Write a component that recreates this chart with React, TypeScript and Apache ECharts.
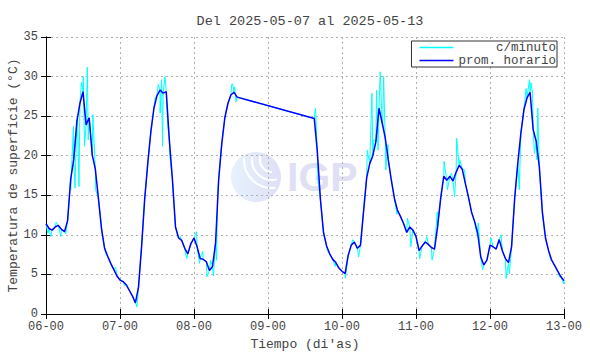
import React, { useEffect, useRef } from 'react';
import * as echarts from 'echarts';

const TITLE = 'Del 2025-05-07 al 2025-05-13';
const X_NAME = "Tiempo (di'as)";
const Y_NAME = 'Temperatura de superficie (°C)';
const X_TICK_LABELS = ['06-00', '07-00', '08-00', '09-00', '10-00', '11-00', '12-00', '13-00'];
const SERIES_NAMES = ['c/minuto', 'prom. horario'];

// Hourly mean (°C), one value per hour starting 06-00; null = no data
const HOURLY_DAY06 = [11.4, 10.8, 10.6, 11.0, 11.2, 10.7, 10.4, 11.8, 17.0, 19.5, 24.3, 26.6, 28.1, 23.9, 24.8, 20.1, 18.3, 14.6, 10.8, 8.3, 7.3, 6.4, 5.6, 4.8];
const HOURLY_DAY07 = [4.3, 4.1, 3.7, 3.0, 2.3, 1.4, 3.4, 8.5, 14.5, 19.0, 23.0, 26.0, 27.6, 28.3, 27.9, 28.1, 22.0, 17.0, 11.0, 9.6, 9.3, 8.3, 7.6, 8.9];
const HOURLY_DAY08 = [9.6, 8.5, 7.0, 6.9, 6.6, 5.5, 6.0, 9.0, 17.0, 21.5, 24.8, 26.6, 27.7, 28.0, 27.4, null, null, null, null, null, null, null, null, null];
const HOURLY_DAY09 = [null, null, null, null, null, null, null, null, null, null, null, null, null, null, null, 24.7, 20.5, 14.5, 10.3, 8.6, 7.6, 6.9, 6.5, 5.8];
const HOURLY_DAY10 = [5.4, 5.1, 7.4, 8.7, 9.1, 8.3, 8.7, 13.0, 17.2, 19.0, 20.0, 21.8, 26.0, 24.2, 22.3, 19.5, 16.9, 14.6, 13.1, 12.3, 11.4, 10.3, 11.0, 10.6];
const HOURLY_DAY11 = [9.8, 8.0, 8.6, 9.1, 8.8, 8.4, 8.2, 11.0, 14.6, 17.4, 16.9, 17.4, 16.8, 17.9, 18.8, 18.3, 16.5, 14.8, 12.9, 11.7, 10.2, 7.2, 6.2, 6.8];
const HOURLY_DAY12 = [8.7, 8.5, 8.2, 9.4, 8.0, 7.0, 6.5, 8.5, 14.6, 19.0, 22.8, 25.8, 27.3, 28.0, 23.3, 21.8, 18.6, 12.8, 9.6, 8.0, 6.8, 6.1, 5.4, 4.7];
const HOURLY_DAY13 = [4.2];

// Per-minute readings that stand out from the hourly mean: [hours since 06-00, °C]
const MINUTE_EXTREMES = [
  [0.6, 10.2], [1.5, 9.8], [3.3, 11.6], [4.8, 9.8], [6.4, 10.1], [8.0, 15.7], [8.9, 23.7], [9.4, 15.9], [10.2, 24.9],
  [10.7, 16.1], [11.5, 29.3], [12.1, 30.0], [12.5, 21.2], [13.4, 31.2], [13.7, 22.0], [15.2, 25.2], [16.1, 15.7],
  [17.5, 12.8], [19.4, 7.6], [22.6, 5.9], [25.5, 3.6],
  [29.5, 0.9], [35.4, 27.3], [36.4, 29.0], [37.0, 25.4], [37.5, 29.6], [37.8, 21.2], [38.6, 30.0], [39.5, 23.7], [40.2, 19.9],
  [43.5, 9.8], [45.6, 7.0], [48.8, 10.4], [49.8, 6.4], [50.8, 7.9], [52.2, 4.7], [53.4, 6.8], [54.3, 4.8],
  [55.3, 6.8], [55.7, 15.3], [60.2, 29.0], [60.5, 29.1], [61.2, 28.7], [61.6, 26.8],
  [87.4, 26.0], [88.2, 16.9], [91.3, 8.0], [93.8, 6.0], [97.1, 4.5], [99.5, 9.4], [101.4, 7.2], [104.2, 20.7], [105.7, 27.9], [106.3, 22.0],
  [107.2, 28.3], [107.7, 20.7], [108.4, 30.6], [109.2, 23.7], [109.5, 30.0], [110.2, 18.2],
  [110.9, 21.4], [113.8, 12.6], [117.2, 12.1], [118.3, 8.5], [121.2, 7.0], [123.5, 9.8], [125.2, 6.8], [126.9, 12.9], [129.1, 19.3], [130.2, 15.7],
  [131.5, 17.8], [132.5, 14.8], [133.2, 22.2], [134.2, 19.5], [135.8, 18.2], [139.9, 9.8],
  [140.2, 11.5], [141.6, 5.6], [144.3, 9.6], [147.6, 10.0], [149.2, 4.5], [150.3, 5.1], [153.5, 15.7],
  [155.7, 28.5], [156.8, 29.6], [157.3, 29.2], [157.8, 27.9], [158.4, 20.3], [159.2, 19.5], [159.5, 26.0],
  [163.6, 7.0], [166.5, 4.7], [167.9, 3.8],
];

const FONT = '"Liberation Mono", "Courier New", monospace';
const TEXT_COLOR = '#444';

export default function App() {
  const ref = useRef<HTMLDivElement>(null);

  useEffect(() => {
    if (!ref.current) return;
    const chart = echarts.init(ref.current, undefined, { renderer: 'svg' });

    const hourly = [
      ...HOURLY_DAY06, ...HOURLY_DAY07, ...HOURLY_DAY08, ...HOURLY_DAY09,
      ...HOURLY_DAY10, ...HOURLY_DAY11, ...HOURLY_DAY12, ...HOURLY_DAY13,
    ];
    const hourlyPts = hourly
      .map((v, i) => [i, v] as [number, number | null])
      .filter((p) => p[1] !== null) as [number, number][];
    const minutePts = [...hourlyPts, ...(MINUTE_EXTREMES as [number, number][])].sort((a, b) => a[0] - b[0]);

    const axisCommonX = {
      type: 'value' as const,
      min: 0,
      max: 168,
      interval: 24,
      axisLine: { show: true, lineStyle: { color: '#000', width: 1 } },
      axisTick: { show: true, inside: true, length: 5, lineStyle: { color: '#000' } },
    };
    const axisCommonY = {
      type: 'value' as const,
      min: 0,
      max: 35,
      interval: 5,
      axisLine: { show: true, lineStyle: { color: '#000', width: 1 } },
      axisTick: { show: true, inside: true, length: 5, lineStyle: { color: '#000' } },
    };
    const splitLine = { show: true, lineStyle: { color: '#b0b0b0', width: 1, type: [2, 3] as any } };

    const option: any = {
      animation: false,
      backgroundColor: '#fff',
      title: {
        text: TITLE,
        left: 305,
        top: 9,
        textAlign: 'center',
        textStyle: { fontFamily: FONT, fontSize: 13.5, fontWeight: 'normal', color: TEXT_COLOR },
      },
      legend: {
        data: SERIES_NAMES,
        orient: 'vertical',
        right: 33,
        top: 41,
        icon: 'rect',
        itemWidth: 34,
        itemHeight: 1.5,
        itemGap: 0,
        padding: [0, 1, 0, 8],
        borderColor: '#333',
        borderWidth: 1,
        backgroundColor: '#fff',
        formatter: (name: string) => '\u00a0'.repeat(13 - name.length) + name,
        textStyle: { fontFamily: FONT, fontSize: 12.5, lineHeight: 13, color: TEXT_COLOR },
      },
      grid: { left: 46, right: 26, top: 37, bottom: 40, outerBoundsMode: 'none' },
      graphic: [
        {
          type: 'group',
          silent: true,
          z: 0,
          children: [
            {
              type: 'circle',
              shape: { cx: 256, cy: 177, r: 25 },
              style: {
                fill: new echarts.graphic.LinearGradient(0, 0, 1, 0, [
                  { offset: 0, color: '#e6f2fd' },
                  { offset: 1, color: '#dfdff5' },
                ]),
              },
            },
            { type: 'arc', shape: { cx: 272, cy: 160, r: 12, startAngle: Math.PI * 0.5, endAngle: Math.PI * 1.1 }, style: { stroke: '#fff', lineWidth: 2, fill: 'none' } },
            { type: 'arc', shape: { cx: 272, cy: 160, r: 20, startAngle: Math.PI * 0.42, endAngle: Math.PI * 1.05 }, style: { stroke: '#fff', lineWidth: 2, fill: 'none' } },
            { type: 'arc', shape: { cx: 272, cy: 160, r: 28, startAngle: Math.PI * 0.46, endAngle: Math.PI * 1.02 }, style: { stroke: '#fff', lineWidth: 2, fill: 'none' } },
            {
              type: 'text',
              x: 287,
              y: 177,
              style: {
                text: 'IGP',
                fill: '#e0e0f4',
                font: 'bold 41px "Liberation Sans", Arial, sans-serif',
                verticalAlign: 'middle',
              },
            },
          ],
        },
      ],
      xAxis: [
        {
          ...axisCommonX,
          position: 'bottom',
          name: X_NAME,
          nameLocation: 'middle',
          nameGap: 24,
          nameMoveOverlap: false,
          nameTextStyle: { fontFamily: FONT, fontSize: 13, color: TEXT_COLOR },
          axisLabel: {
            margin: 7,
            fontFamily: FONT,
            fontSize: 12,
            color: TEXT_COLOR,
            formatter: (v: number) => X_TICK_LABELS[Math.round(v / 24)] ?? '',
          },
          splitLine,
        },
        {
          ...axisCommonX,
          position: 'top',
          axisLabel: { show: false },
          splitLine: { show: false },
        },
      ],
      yAxis: [
        {
          ...axisCommonY,
          position: 'left',
          name: Y_NAME,
          nameLocation: 'middle',
          nameGap: 26,
          nameMoveOverlap: false,
          nameTextStyle: { fontFamily: FONT, fontSize: 13, color: TEXT_COLOR },
          axisLabel: { margin: 8, fontFamily: FONT, fontSize: 12, color: TEXT_COLOR },
          splitLine,
        },
        {
          ...axisCommonY,
          position: 'right',
          axisLabel: { show: false },
          splitLine: { show: false },
        },
      ],
      series: [
        {
          name: SERIES_NAMES[0],
          type: 'line',
          xAxisIndex: 0,
          yAxisIndex: 0,
          data: minutePts,
          symbol: 'none',
          lineStyle: { color: '#00ffff', width: 1 },
          itemStyle: { color: '#00ffff' },
          z: 3,
        },
        {
          name: SERIES_NAMES[1],
          type: 'line',
          xAxisIndex: 0,
          yAxisIndex: 0,
          data: hourlyPts,
          symbol: 'none',
          lineStyle: { color: '#0000ff', width: 1.5 },
          itemStyle: { color: '#0000ff' },
          z: 4,
        },
      ],
    };

    chart.setOption(option);
    return () => chart.dispose();
  }, []);

  return <div ref={ref} style={{ width: 590, height: 354, position: 'absolute', left: 0, top: 0 }} />;
}
